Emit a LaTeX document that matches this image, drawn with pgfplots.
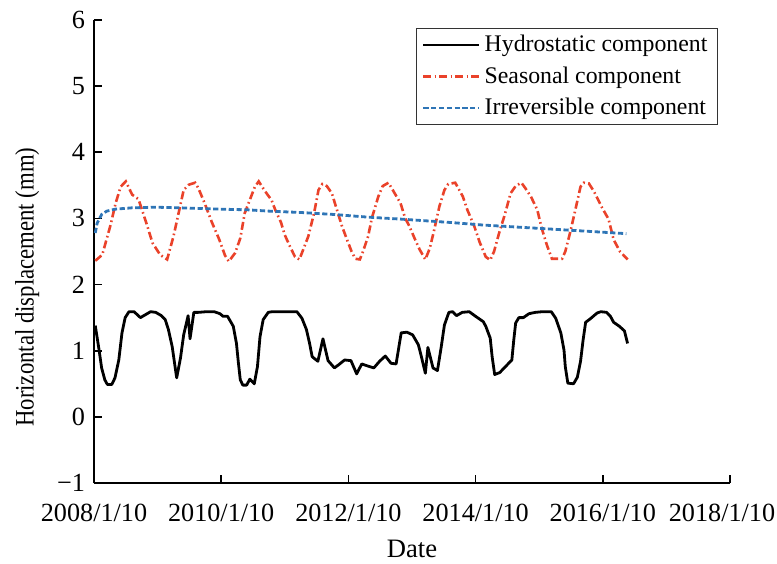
\documentclass[border=0pt]{standalone}
\usepackage{pgfplots}
\pgfplotsset{compat=1.18}
\usepackage{fontspec}
\setmainfont{Liberation Serif}
\newfontfamily\narrowlabel{Liberation Serif}[FakeStretch=0.855]

\definecolor{seasred}{RGB}{234,66,42}
\definecolor{irrblue}{RGB}{46,117,182}

\begin{document}
\begin{tikzpicture}
\begin{axis}[
  name=ax,
  scale only axis,
  width=318pt, height=231.5pt,
  xmin=2008.03, xmax=2018.03,
  ymin=-1, ymax=6,
  axis lines=left,
  axis line style={-, line width=0.8pt},
  tick style={black, line width=0.8pt},
  tick align=inside,
  major tick length=4pt,
  xtick={2008.03,2010.03,2012.03,2014.03,2016.03},
  xticklabels={2008/1/10,2010/1/10,2012/1/10,2014/1/10,2016/1/10},
  extra x ticks={2018.03},
  extra x tick labels={2018/1/10},
  extra x tick style={xticklabel style={xshift=-4pt}},
  ytick={-1,0,1,2,3,4,5,6},
  yticklabels={−1,0,1,2,3,4,5,6},
  minor tick num=0,
  tick label style={font=\fontsize{13.1}{15}\selectfont},
  /pgf/number format/assume math mode=true,
  xticklabel style={anchor=base, yshift=-19pt},
  yticklabel style={anchor=east, xshift=-1pt},
  xlabel={Date},
  ylabel={\narrowlabel Horizontal displacement (mm)},
  label style={font=\fontsize{13.3}{15}\selectfont},
  xlabel style={at={(axis description cs:0.5,0)}, anchor=base, yshift=-37pt},
  ylabel style={at={(axis description cs:-0.105,0.423)}, anchor=center},
  clip=false,
  legend cell align=left,
  legend style={
    at={(0.981,0.983)}, anchor=north east,
    draw=black!80, line width=0.5pt,
    font=\fontsize{11.9}{13}\selectfont,
    inner xsep=3pt, inner ysep=1.5pt,
    row sep=2.0pt,
  },
  legend image post style={line width=1.2pt},
  legend image code/.code={\draw[#1] (0pt,0pt) -- (28pt,0pt);},
]

% hydrostatic component
\addplot[black, line width=1.4pt, line join=round] coordinates {
(2008.05,1.38) (2008.11,1.01) (2008.15,0.74) (2008.20,0.56) (2008.24,0.49)
(2008.31,0.49) (2008.36,0.59) (2008.42,0.86) (2008.47,1.27) (2008.52,1.50)
(2008.58,1.59) (2008.66,1.59) (2008.76,1.50) (2008.83,1.54) (2008.92,1.59)
(2009.00,1.58) (2009.09,1.53) (2009.15,1.47) (2009.20,1.32) (2009.26,1.06)
(2009.30,0.79) (2009.33,0.59) (2009.39,0.89) (2009.44,1.24) (2009.51,1.53)
(2009.54,1.18) (2009.60,1.58) (2009.67,1.58) (2009.80,1.59) (2009.92,1.59)
(2010.01,1.56) (2010.06,1.52) (2010.13,1.52) (2010.22,1.37) (2010.27,1.11)
(2010.30,0.82) (2010.33,0.56) (2010.37,0.48) (2010.43,0.48) (2010.48,0.57)
(2010.55,0.50) (2010.60,0.76) (2010.64,1.21) (2010.69,1.47) (2010.77,1.58)
(2010.83,1.59) (2011.22,1.59) (2011.30,1.49) (2011.37,1.32) (2011.42,1.11)
(2011.46,0.91) (2011.55,0.84) (2011.63,1.18) (2011.71,0.85) (2011.81,0.74)
(2011.88,0.79) (2011.97,0.86) (2012.07,0.85) (2012.16,0.65) (2012.24,0.80)
(2012.33,0.77) (2012.43,0.74) (2012.52,0.84) (2012.61,0.92) (2012.70,0.81)
(2012.78,0.80) (2012.86,1.27) (2012.95,1.28) (2013.04,1.24) (2013.13,1.09)
(2013.17,0.94) (2013.24,0.66) (2013.28,1.05) (2013.36,0.74) (2013.43,0.70)
(2013.49,1.06) (2013.54,1.39) (2013.61,1.58) (2013.67,1.59) (2013.73,1.53)
(2013.82,1.58) (2013.93,1.59) (2014.03,1.52) (2014.15,1.44) (2014.19,1.37)
(2014.26,1.19) (2014.29,0.91) (2014.33,0.64) (2014.41,0.67) (2014.50,0.76)
(2014.60,0.86) (2014.63,1.16) (2014.66,1.42) (2014.71,1.50) (2014.78,1.50)
(2014.87,1.56) (2014.97,1.58) (2015.08,1.59) (2015.22,1.59) (2015.29,1.49)
(2015.37,1.27) (2015.42,1.01) (2015.44,0.76) (2015.48,0.51) (2015.57,0.50)
(2015.63,0.60) (2015.68,0.84) (2015.72,1.16) (2015.76,1.43) (2015.83,1.48)
(2015.94,1.57) (2016.00,1.59) (2016.09,1.58) (2016.15,1.52) (2016.20,1.43)
(2016.29,1.37) (2016.37,1.30) (2016.42,1.11)
};
\addlegendentry{Hydrostatic component}

% seasonal component
\addplot[seasred, line width=1.3pt, dash pattern=on 4pt off 1.6pt on 0.8pt off 1.6pt] coordinates {
(2008.05,2.36) (2008.16,2.45) (2008.29,2.90) (2008.37,3.23) (2008.45,3.48)
(2008.53,3.56) (2008.63,3.36) (2008.73,3.29) (2008.85,2.94) (2008.95,2.63)
(2009.07,2.45) (2009.18,2.38) (2009.28,2.73) (2009.36,3.08) (2009.44,3.43)
(2009.52,3.51) (2009.62,3.54) (2009.67,3.46) (2009.77,3.23) (2009.88,2.95)
(2010.00,2.68) (2010.09,2.44) (2010.15,2.35) (2010.25,2.48) (2010.33,2.70)
(2010.40,3.08) (2010.48,3.28) (2010.56,3.48) (2010.62,3.56) (2010.72,3.41)
(2010.82,3.28) (2010.88,3.13) (2010.97,2.94) (2011.03,2.75) (2011.10,2.60)
(2011.19,2.42) (2011.26,2.38) (2011.32,2.53) (2011.40,2.73) (2011.49,3.08)
(2011.56,3.43) (2011.62,3.52) (2011.69,3.49) (2011.77,3.38) (2011.84,3.16)
(2011.93,2.88) (2012.00,2.70) (2012.08,2.50) (2012.14,2.39) (2012.21,2.38)
(2012.26,2.50) (2012.34,2.73) (2012.40,3.01) (2012.50,3.33) (2012.57,3.49)
(2012.66,3.54) (2012.77,3.36) (2012.85,3.23) (2012.92,3.01) (2012.99,2.88)
(2013.07,2.70) (2013.15,2.53) (2013.24,2.38) (2013.31,2.55) (2013.38,2.83)
(2013.46,3.18) (2013.54,3.43) (2013.60,3.52) (2013.71,3.54) (2013.83,3.33)
(2013.90,3.13) (2014.01,2.88) (2014.09,2.65) (2014.19,2.42) (2014.26,2.37)
(2014.32,2.50) (2014.40,2.78) (2014.49,3.06) (2014.58,3.38) (2014.66,3.49)
(2014.75,3.54) (2014.81,3.46) (2014.90,3.33) (2015.00,3.13) (2015.07,2.85)
(2015.15,2.60) (2015.23,2.39) (2015.39,2.39) (2015.44,2.50) (2015.52,2.80)
(2015.61,3.18) (2015.68,3.48) (2015.73,3.54) (2015.81,3.53) (2015.89,3.41)
(2016.02,3.16) (2016.12,2.99) (2016.20,2.68) (2016.30,2.50) (2016.42,2.38)
};
\addlegendentry{Seasonal component}

% irreversible component
\addplot[irrblue, line width=1.4pt, dash pattern=on 2.6pt off 1.3pt] coordinates {
(2008.05,2.78) (2008.08,2.93) (2008.15,3.06) (2008.23,3.11) (2008.36,3.14)
(2008.62,3.16) (2008.99,3.17) (2009.40,3.16) (2010.03,3.14) (2010.45,3.13)
(2010.79,3.11) (2011.28,3.09) (2011.80,3.06) (2012.33,3.02) (2012.85,2.99)
(2013.62,2.94) (2014.15,2.90) (2014.67,2.87) (2015.20,2.84) (2015.72,2.81)
(2016.40,2.77)
};
\addlegendentry{Irreversible component}
\end{axis}
\pgfresetboundingbox
\path[use as bounding box] ([shift={(-47pt,-40pt)}]ax.south west) rectangle ([shift={(341.5pt,241.5pt)}]ax.south west);
\end{tikzpicture}
\end{document}
